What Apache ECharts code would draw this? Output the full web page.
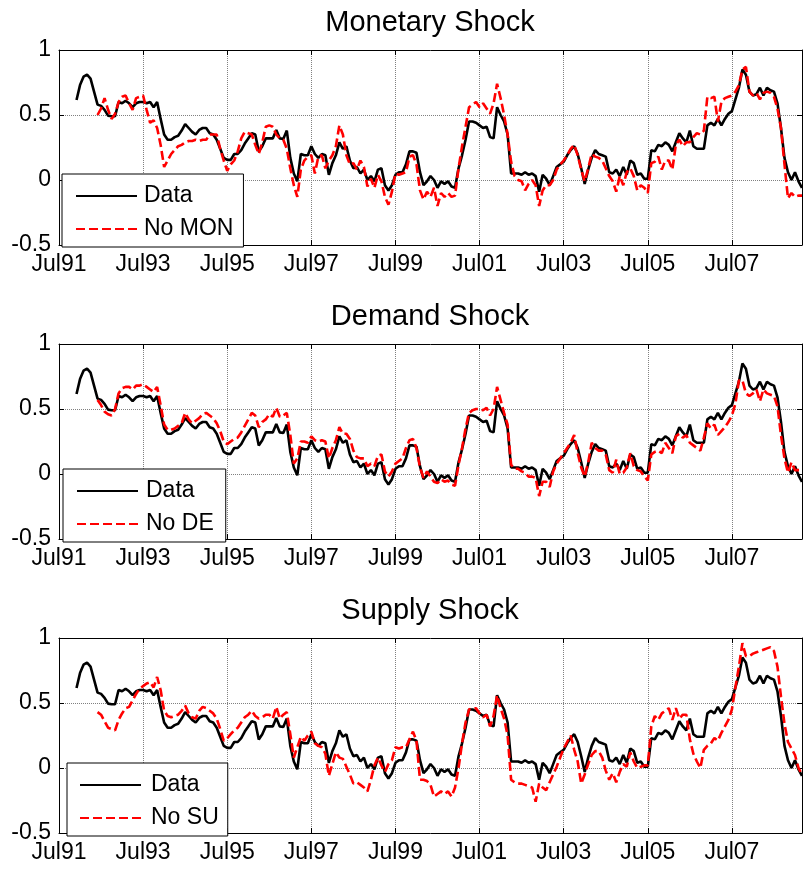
<!DOCTYPE html>
<html><head><meta charset="utf-8">
<script src="https://cdn.jsdelivr.net/npm/echarts/dist/echarts.min.js"></script>
<style>html,body{margin:0;padding:0;background:#fff}#c{width:803px;height:869px}</style>
</head><body><div id="c"></div>
<script>
// x axis: months after Jul 1991
const xTickLabels = ['Jul91','Jul93','Jul95','Jul97','Jul99','Jul01','Jul03','Jul05','Jul07'];
const yTickLabels = ['-0.5','0','0.5','1'];
const panelTitles = ['Monetary Shock','Demand Shock','Supply Shock'];
const cfNames = ['No MON','No DE','No SU'];
const dataStart = 5;   // Dec91
const cfStart = 11;    // Jun92

const actual = [
0.615,0.73,0.795,0.81,0.78,0.68,0.58,0.57,0.54,0.495,0.49,0.49,
0.6,0.59,0.61,0.59,0.56,0.59,0.6,0.6,0.59,0.6,0.56,0.6,
0.47,0.35,0.31,0.31,0.33,0.34,0.38,0.43,0.4,0.37,0.35,0.385,
0.4,0.4,0.36,0.35,0.31,0.24,0.17,0.155,0.155,0.2,0.2,0.23,
0.28,0.32,0.36,0.35,0.22,0.26,0.32,0.32,0.32,0.385,0.32,0.315,
0.38,0.17,0.05,-0.01,0.2,0.19,0.19,0.26,0.2,0.17,0.2,0.19,
0.04,0.13,0.19,0.29,0.24,0.26,0.15,0.09,0.1,0.05,0.08,0,
0.03,-0.01,0.08,0.09,-0.04,-0.08,-0.04,0.04,0.06,0.06,0.12,0.22,
0.22,0.21,0.06,-0.04,-0.01,0.03,0,-0.06,-0.01,-0.03,-0.01,-0.05,
-0.06,0.09,0.19,0.31,0.45,0.45,0.44,0.42,0.4,0.41,0.33,0.32,
0.56,0.5,0.45,0.35,0.05,0.05,0.05,0.04,0.06,0.04,0.05,0.03,
-0.09,0.04,0.01,-0.04,0.03,0.1,0.12,0.14,0.19,0.23,0.26,0.2,
0.09,-0.03,0.08,0.17,0.23,0.2,0.19,0.18,0.06,0.05,0.08,0.03,
0.1,0.04,0.15,0.13,0.04,0.05,0.01,0.01,0.23,0.22,0.27,0.26,
0.29,0.27,0.22,0.29,0.36,0.32,0.29,0.38,0.26,0.24,0.24,0.24,
0.42,0.44,0.42,0.47,0.42,0.47,0.51,0.53,0.62,0.71,0.85,0.81,
0.68,0.65,0.66,0.71,0.65,0.71,0.69,0.68,0.59,0.4,0.17,0.06,
0,0.06,-0.01,-0.06
];

const noMON = [
0.5,0.55,0.63,0.54,0.47,0.51,0.6,0.64,0.65,0.59,0.54,0.63,
0.64,0.65,0.54,0.44,0.46,0.4,0.27,0.1,0.15,0.2,0.23,0.26,
0.27,0.29,0.3,0.3,0.31,0.3,0.31,0.31,0.35,0.35,0.35,0.24,
0.15,0.07,0.12,0.15,0.22,0.32,0.37,0.36,0.35,0.27,0.2,0.29,
0.41,0.42,0.41,0.35,0.32,0.31,0.24,0.09,-0.04,-0.13,0.08,0.15,
0.18,0.19,0.05,0.18,0.19,0.09,0.15,0.19,0.26,0.42,0.35,0.19,
0.12,0.13,0.08,0.15,0.1,-0.05,0.01,-0.06,0.04,-0.01,-0.13,-0.19,
-0.09,0.05,0.04,0.05,0.06,0.18,0.19,0.12,-0.08,-0.15,-0.09,-0.13,
-0.06,-0.2,-0.1,-0.13,-0.1,-0.13,-0.12,0.09,0.26,0.41,0.56,0.58,
0.6,0.56,0.59,0.55,0.51,0.59,0.74,0.63,0.5,0.35,0.14,0.03,
0,-0.01,-0.08,-0.03,0,-0.04,-0.2,-0.08,-0.04,-0.04,0,0.08,
0.12,0.15,0.19,0.24,0.27,0.19,0.08,-0.01,0.09,0.2,0.18,0.17,
0.15,0.09,0.03,-0.01,-0.09,0.03,-0.04,0.06,0.09,0.03,-0.08,-0.04,
-0.06,-0.1,0.13,0.14,0.18,0.08,0.15,0.15,0.08,0.27,0.31,0.26,
0.29,0.29,0.33,0.36,0.35,0.38,0.64,0.63,0.64,0.45,0.6,0.63,
0.64,0.65,0.68,0.73,0.85,0.87,0.68,0.65,0.67,0.62,0.67,0.68,
0.67,0.64,0.55,0.4,0.12,-0.14,-0.1,-0.13,-0.12,-0.12
];

const noDE = [
0.57,0.53,0.48,0.46,0.45,0.5,0.62,0.66,0.67,0.67,0.65,0.68,
0.68,0.69,0.67,0.65,0.63,0.67,0.53,0.38,0.34,0.34,0.35,0.37,
0.39,0.47,0.42,0.39,0.41,0.43,0.46,0.47,0.45,0.43,0.39,0.33,
0.25,0.23,0.25,0.27,0.28,0.32,0.37,0.42,0.47,0.45,0.36,0.4,
0.42,0.46,0.44,0.51,0.44,0.45,0.47,0.3,0.08,0.12,0.25,0.25,
0.24,0.29,0.26,0.25,0.26,0.25,0.12,0.2,0.26,0.36,0.31,0.31,
0.27,0.18,0.13,0.12,0.12,0.06,0.08,0.06,0.14,0.15,0.02,-0.02,
0.02,0.08,0.1,0.12,0.2,0.26,0.27,0.2,0.05,-0.03,0.02,-0.02,
-0.06,-0.07,-0.04,-0.06,-0.05,-0.08,-0.09,0.07,0.2,0.35,0.47,0.49,
0.5,0.5,0.49,0.51,0.45,0.5,0.67,0.57,0.47,0.38,0.07,0.04,
0.04,0.02,0.01,-0.02,-0.02,-0.03,-0.17,-0.06,-0.06,-0.1,0.02,0.08,
0.12,0.16,0.2,0.24,0.3,0.16,0.05,-0.02,0.09,0.24,0.2,0.18,
0.18,0.15,0.03,0.01,0.11,0,0.01,0.05,0.16,0.06,0.03,0.02,
-0.02,-0.05,0.15,0.17,0.18,0.16,0.24,0.2,0.16,0.29,0.31,0.28,
0.3,0.24,0.22,0.2,0.18,0.28,0.39,0.35,0.38,0.3,0.33,0.36,
0.4,0.45,0.54,0.72,0.72,0.62,0.6,0.62,0.65,0.56,0.65,0.62,
0.61,0.6,0.52,0.3,0.12,0.01,0.09,0.03,0.03,0.03
];

const noSU = [
0.43,0.41,0.36,0.31,0.3,0.29,0.37,0.42,0.46,0.47,0.52,0.57,
0.61,0.63,0.65,0.66,0.62,0.7,0.6,0.44,0.4,0.39,0.4,0.41,
0.44,0.48,0.42,0.39,0.38,0.44,0.47,0.46,0.44,0.42,0.38,0.3,
0.21,0.23,0.26,0.29,0.31,0.35,0.39,0.41,0.44,0.4,0.38,0.39,
0.41,0.41,0.38,0.47,0.38,0.41,0.43,0.26,0.08,0.16,0.24,0.21,
0.25,0.28,0.19,0.17,0.16,0.11,-0.06,0.03,0.12,0.08,0.07,0.01,
-0.05,-0.12,-0.11,-0.13,-0.15,-0.18,-0.09,0.02,0.08,0.02,-0.03,0.03,
0.06,0.16,0.15,0.16,0.16,0.22,0.28,0.21,-0.09,-0.09,-0.1,-0.13,
-0.22,-0.2,-0.18,-0.2,-0.18,-0.22,-0.15,0,0.19,0.35,0.45,0.46,
0.46,0.42,0.39,0.41,0.32,0.4,0.56,0.46,0.38,0.25,-0.09,-0.11,
-0.12,-0.12,-0.13,-0.14,-0.15,-0.26,-0.12,-0.15,-0.17,-0.11,-0.05,0.01,
0.08,0.15,0.2,0.25,0.14,0.05,-0.12,-0.05,0.03,0.1,0.13,0.13,
0.08,-0.02,-0.09,-0.04,-0.11,-0.03,0.03,0.01,0.12,0.05,0,0.01,
0.02,0.02,0.32,0.4,0.37,0.42,0.44,0.46,0.37,0.46,0.38,0.41,
0.41,0.22,0.11,0.05,0,0.14,0.17,0.19,0.23,0.21,0.27,0.32,
0.37,0.45,0.62,0.78,0.96,0.86,0.86,0.88,0.89,0.9,0.91,0.92,
0.93,0.9,0.78,0.55,0.34,0.2,0.15,0.1,0,-0.05
];

const FONT = '"Liberation Sans", Arial, Helvetica, sans-serif';
const gridTops = [50, 344, 638];
const gridLeft = 59, gridW = 743, gridH = 195;
const legendPos = [{left:62, top:174, gap:2, pl:13, pr:10}, {left:63, top:469, gap:3, pl:13, pr:12}, {left:67, top:763, gap:5, pl:12, pr:9}];
const cfs = [noMON, noDE, noSU];

const chart = echarts.init(document.getElementById('c'), null, {renderer:'canvas'});
const opt = {animation:false, backgroundColor:'#fff', grid:[], xAxis:[], yAxis:[], series:[], title:[], legend:[]};

const xFmt = v => (v % 24 === 0 && v / 24 < xTickLabels.length) ? xTickLabels[v / 24] : '';
const yFmt = v => { const i = Math.round((v + 0.5) / 0.5); return yTickLabels[i] !== undefined ? yTickLabels[i] : ''; };

for (let p = 0; p < 3; p++) {
  const top = gridTops[p];
  opt.grid.push({left:gridLeft, top:top, width:gridW, height:gridH, containLabel:false, outerBoundsMode:'none'});
  const common = {gridIndex:p, type:'value', min:0, max:212, interval:24};
  opt.xAxis.push(Object.assign({}, common, {
    position:'bottom',
    axisLine:{show:true, onZero:false, lineStyle:{color:'#000', width:1}},
    axisTick:{show:true, inside:true, length:5, lineStyle:{color:'#000'}},
    axisLabel:{show:true, formatter:xFmt, color:'#000', fontSize:23, fontFamily:FONT, margin:8, showMaxLabel:false},
    splitLine:{show:true, lineStyle:{color:'#808080', type:'dotted', width:1}}
  }));
  opt.xAxis.push(Object.assign({}, common, {
    position:'top',
    axisLine:{show:true, onZero:false, lineStyle:{color:'#000', width:1}},
    axisTick:{show:true, inside:true, length:5, lineStyle:{color:'#000'}},
    axisLabel:{show:false}, splitLine:{show:false}
  }));
  const ycommon = {gridIndex:p, type:'value', min:-0.5, max:1, interval:0.5};
  opt.yAxis.push(Object.assign({}, ycommon, {
    position:'left',
    axisLine:{show:true, onZero:false, lineStyle:{color:'#000', width:1}},
    axisTick:{show:true, inside:true, length:5, lineStyle:{color:'#000'}},
    axisLabel:{show:true, formatter:yFmt, color:'#000', fontSize:23, fontFamily:FONT, margin:8},
    splitLine:{show:true, lineStyle:{color:'#808080', type:'dotted', width:1}}
  }));
  opt.yAxis.push(Object.assign({}, ycommon, {
    position:'right',
    axisLine:{show:true, onZero:false, lineStyle:{color:'#000', width:1}},
    axisTick:{show:true, inside:true, length:5, lineStyle:{color:'#000'}},
    axisLabel:{show:false}, splitLine:{show:false}
  }));
  opt.series.push({
    name:'Data', type:'line', xAxisIndex:2*p, yAxisIndex:2*p, symbol:'none', silent:true, z:2,
    lineStyle:{color:'#000', width:2.6}, itemStyle:{color:'#000'},
    data: actual.map((v, i) => [dataStart + i, v])
  });
  opt.series.push({
    name:cfNames[p], type:'line', xAxisIndex:2*p, yAxisIndex:2*p, symbol:'none', silent:true, z:3,
    lineStyle:{color:'#ff0000', width:2.6, type:[9,4]}, itemStyle:{color:'#ff0000'},
    data: cfs[p].map((v, i) => [cfStart + i, v])
  });
  opt.title.push({
    text:panelTitles[p], left:430, top:top - 42, textAlign:'center', padding:0,
    textStyle:{fontSize:29, fontWeight:'normal', color:'#000', fontFamily:FONT}
  });
  const lp = legendPos[p];
  opt.legend.push({
    data:['Data', cfNames[p]], orient:'vertical', left:lp.left, top:lp.top,
    itemWidth:61, itemHeight:14, itemGap:7, padding:[9, lp.pr, 5, lp.pl],
    borderColor:'#000', borderWidth:1, backgroundColor:'#fff', borderRadius:0,
    selectedMode:false, itemStyle:{opacity:0},
    formatter: name => '{t|' + name + '}',
    textStyle:{color:'#000', fontSize:23, fontFamily:FONT, lineHeight:26,
      rich:{t:{padding:[0,0,0,lp.gap], color:'#000', fontSize:23, fontFamily:FONT, lineHeight:26}}}
  });
}
chart.setOption(opt);
</script>
</body></html>
